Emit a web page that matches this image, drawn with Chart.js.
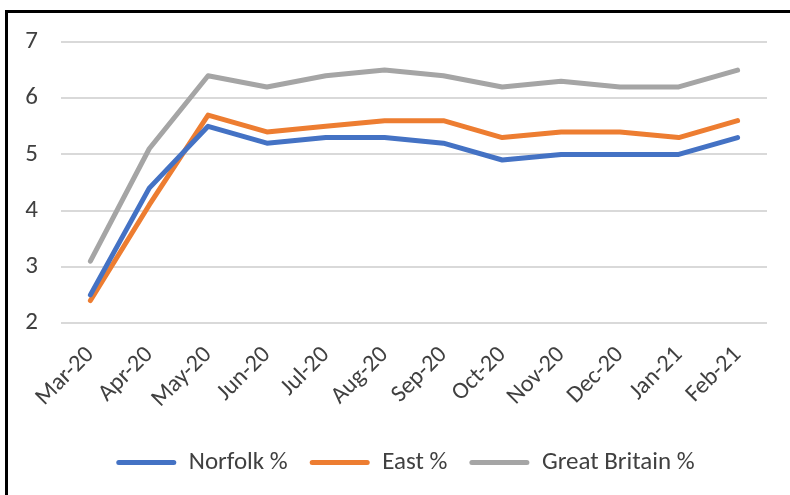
<!DOCTYPE html>
<html>
<head>
<meta charset="utf-8">
<script src="https://cdn.jsdelivr.net/npm/chart.js@4"></script>
<style>
  html, body { margin: 0; padding: 0; background: #fff; }
  #wrap { position: relative; width: 790px; height: 495px; }
  #frame {
    position: absolute; left: 5px; top: 10px; width: 800px; height: 500px;
    border-top: 3px solid #000; border-left: 3px solid #000; pointer-events: none;
  }
</style>
</head>
<body>
<div id="wrap">
  <canvas id="chart" width="790" height="495"></canvas>
  <div id="frame"></div>
</div>
<script>
// data
const months = ['Mar-20', 'Apr-20', 'May-20', 'Jun-20', 'Jul-20', 'Aug-20',
                'Sep-20', 'Oct-20', 'Nov-20', 'Dec-20', 'Jan-21', 'Feb-21'];
const norfolk = [2.5, 4.4, 5.5, 5.2, 5.3, 5.3, 5.2, 4.9, 5.0, 5.0, 5.0, 5.3];
const east = [2.4, 4.1, 5.7, 5.4, 5.5, 5.6, 5.6, 5.3, 5.4, 5.4, 5.3, 5.6];
const greatBritain = [3.1, 5.1, 6.4, 6.2, 6.4, 6.5, 6.4, 6.2, 6.3, 6.2, 6.2, 6.5];
const yTicks = [2, 3, 4, 5, 6, 7];

const FONT = 'Calibri, Carlito, "Liberation Sans", Arial, sans-serif';
const TEXT = '#404040';

function series(label, data, color) {
    return {
        label,
        data,
        borderColor: color,
        backgroundColor: color,
        borderWidth: 5,
        borderCapStyle: 'round',
        borderJoinStyle: 'round',
        pointRadius: 0,
        tension: 0,
    };
}

// the legend sits a little right of centre in the original
const legendShift = {
    id: 'legendShift',
    afterLayout(chart) {
        chart.legend.left += 22;
        chart.legend.right += 22;
    },
};

const ctx = document.getElementById('chart').getContext('2d');
new Chart(ctx, {
    type: 'line',
    data: {
        labels: months,
        datasets: [
            series('Norfolk %', norfolk, '#4472C4'),
            series('East %', east, '#ED7D31'),
            series('Great Britain %', greatBritain, '#A5A5A5'),
        ],
    },
    options: {
        responsive: false,
        animation: false,
        layout: { padding: { top: 42, right: 23, bottom: 10, left: 0 } },
        scales: {
            x: {
                offset: true,
                grid: { display: false },
                border: { display: false },
                ticks: {
                    color: TEXT,
                    font: { family: FONT, size: 24 },
                    autoSkip: false,
                    minRotation: 45,
                    maxRotation: 45,
                    padding: 10,
                },
                afterFit(scale) { scale.height = 105; },
            },
            y: {
                min: yTicks[0],
                max: yTicks[yTicks.length - 1],
                grid: { color: '#D9D9D9', lineWidth: 2, drawTicks: false },
                border: { display: false },
                ticks: {
                    stepSize: 1,
                    color: TEXT,
                    padding: 23,
                    font: { family: FONT, size: 25 },
                },
                afterFit(scale) { scale.width = 61; },
            },
        },
        plugins: {
            tooltip: { enabled: false },
            legend: {
                position: 'bottom',
                labels: {
                    color: TEXT,
                    font: { family: FONT, size: 25 },
                    boxWidth: 60,
                    boxHeight: 5,
                    padding: 22,
                    generateLabels(chart) {
                        const items = Chart.defaults.plugins.legend.labels.generateLabels(chart);
                        items.forEach(it => { it.lineWidth = 0; it.borderRadius = 2.5; });
                        return items;
                    },
                },
            },
        },
    },
    plugins: [legendShift],
});
</script>
</body>
</html>
